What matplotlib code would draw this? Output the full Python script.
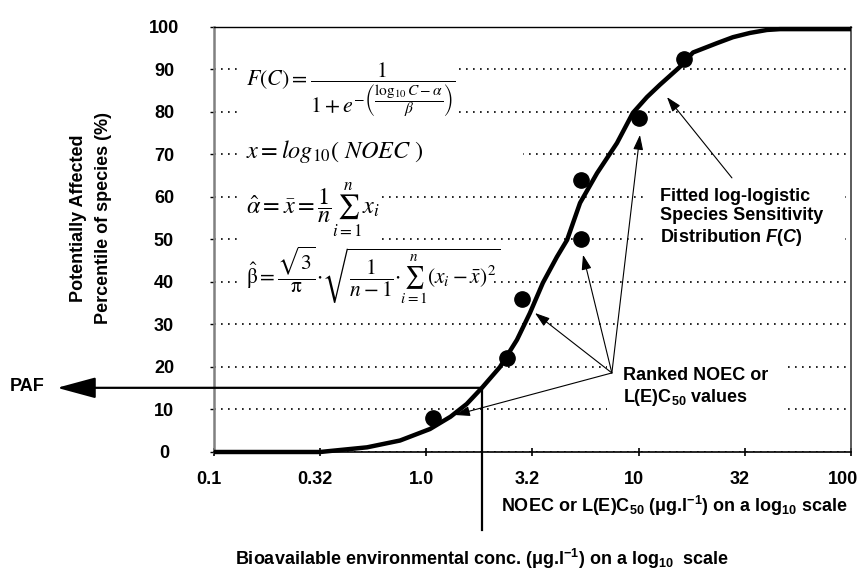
import numpy as np
import matplotlib.pyplot as plt
from matplotlib.patches import Rectangle
from matplotlib.transforms import ScaledTranslation

plt.rcParams['font.family'] = ['Liberation Sans', 'DejaVu Sans']
plt.rcParams['mathtext.fontset'] = 'custom'
plt.rcParams['mathtext.rm'] = 'Liberation Sans:bold'
plt.rcParams['mathtext.it'] = 'Liberation Sans:italic:bold'
plt.rcParams['mathtext.bf'] = 'Liberation Sans:bold'

# fitted log-logistic SSD
curve_conc = [0.1, 0.316, 0.363, 0.526, 0.752, 1.04, 1.30, 1.55, 1.828, 2.223,
              2.673, 3.076, 3.540, 4.121, 4.603, 5.297, 6.368, 7.907, 9.397,
              10.94, 12.59, 15.63, 18.03, 23.39, 27.80, 33.42, 40.18, 46.34, 100]
curve_paf = [0, 0, 0.3, 1.1, 2.7, 5.4, 8.3, 11.3, 15.1, 20.0,
             26.4, 32.7, 39.8, 45.9, 49.9, 58.6, 65.6, 72.7, 79.8,
             83.5, 86.4, 90.6, 94.0, 96.2, 97.6, 98.6, 99.3, 99.5, 99.5]

# ranked NOEC values
noec = [1.08, 2.40, 2.83, 5.36, 5.36, 10.0, 16.4]
noec_pct = [8.0, 22.0, 36.0, 50.0, 64.0, 78.5, 92.5]

xticks = [0.1, 0.316, 1.0, 3.16, 10, 31.6, 100]
xtick_labels = ['0.1', '0.32', '1.0', '3.2', '10', '32', '100']
yticks = list(range(0, 101, 10))

# PAF read-out
paf_conc = 1.83
paf_value = 15.1

# annotation arrows
fit_arrow_from = (27.5, 64.5)
fit_arrow_to = (13.6, 83.5)
ranked_from = (7.48, 18.6)
ranked_to = [(1.365, 8.7), (3.25, 32.7), (5.47, 46.4), (10.14, 74.6)]

fig = plt.figure(figsize=(8.58, 5.72), dpi=100)
ax = fig.add_axes([0.2494, 0.2098, 0.7424, 0.743])
ax.set_xscale('log')
ax.set_xlim(0.1, 100)
ax.set_ylim(0, 100)

ax.set_xticks(xticks)
ax.set_xticklabels(xtick_labels, fontweight='bold')
ax.xaxis.set_minor_locator(plt.NullLocator())
ax.set_yticks(yticks)
ax.set_yticklabels([str(v) for v in yticks], fontweight='bold')
ax.tick_params(axis='x', direction='inout', length=6, width=1.2, pad=11, labelsize=13)
ax.tick_params(axis='y', direction='out', length=3, width=1, pad=33, labelsize=13)
for lab in ax.get_yticklabels():
    lab.set_horizontalalignment('center')
xlabs = ax.get_xticklabels()
for i, lab in enumerate(xlabs):
    dx = -8 if i == len(xlabs) - 1 else -5
    lab.set_transform(lab.get_transform() + ScaledTranslation(dx / 100, 0, fig.dpi_scale_trans))

ax.set_axisbelow(True)
ax.yaxis.grid(True, linestyle=(0, (1, 3.2)), color='black', lw=1.2)

ax.spines['left'].set_color('#808080')
ax.spines['left'].set_linewidth(1.8)
ax.spines['top'].set_linewidth(1.0)
ax.spines['right'].set_color('#404040')
ax.spines['right'].set_linewidth(1.2)
ax.spines['bottom'].set_linewidth(1.2)

# white text boxes that break the grid lines
boxes = [(0.036, 0.769, 0.342, 0.158),
         (0.036, 0.675, 0.449, 0.059),
         (0.036, 0.475, 0.228, 0.153),
         (0.036, 0.346, 0.402, 0.106),
         (0.673, 0.475, 0.318, 0.153),
         (0.617, 0.075, 0.284, 0.141)]
for x0, y0, w, h in boxes:
    ax.add_patch(Rectangle((x0, y0), w, h, transform=ax.transAxes,
                           facecolor='white', edgecolor='none', zorder=1))

ax.plot(curve_conc, curve_paf, color='black', lw=3.2, zorder=3, clip_on=False,
        solid_capstyle='butt', solid_joinstyle='round')
ax.plot(noec, noec_pct, 'o', color='black', markersize=11, zorder=4)

# formulas
ax.text(0.05, 0.852,
        r'$F\left(C\right)=\dfrac{1}{1+e^{-\left(\dfrac{\log_{10}C-\alpha}{\beta}\right)}}$',
        transform=ax.transAxes, fontsize=15.8, math_fontfamily='stix',
        ha='left', va='center', zorder=6)
ax.text(0.05, 0.706, r'$x = log_{10}(\ NOEC\ )$',
        transform=ax.transAxes, fontsize=17.5, math_fontfamily='stix',
        ha='left', va='center', zorder=6)
ax.text(0.05, 0.569, r'$\hat{\alpha}=\bar{x}=\dfrac{1}{n}\sum_{i=1}^{n}x_i$',
        transform=ax.transAxes, fontsize=17.5, math_fontfamily='stix',
        ha='left', va='center', zorder=6)
ax.text(0.05, 0.416,
        r'$\hat{\mathrm{\beta}}=\dfrac{\sqrt{3}}{\mathrm{\pi}}{\cdot}\sqrt{\dfrac{1}{n-1}{\cdot}\sum_{i=1}^{n}\left(x_i-\bar{x}\right)^2}$',
        transform=ax.transAxes, fontsize=15.5, math_fontfamily='stix',
        ha='left', va='center', zorder=6)

thin = dict(arrowstyle='-|>,head_length=0.9,head_width=0.3', color='black',
            lw=0.8, shrinkA=0, shrinkB=0, mutation_scale=10)
ax.annotate('', xy=fit_arrow_to, xytext=fit_arrow_from, arrowprops=thin, zorder=5)
for tip in ranked_to:
    ax.annotate('', xy=tip, xytext=ranked_from, arrowprops=thin, zorder=5)

ax.text(0.700, 0.622, 'Fitted log-logistic\nSpecies Sensitivity\nDistribution $F$($C$)',
        transform=ax.transAxes, fontsize=13, fontweight='bold', ha='left', va='top',
        zorder=6, linespacing=1.2)
ax.text(0.642, 0.200, 'Ranked NOEC or\nL(E)C$_{50}$ values',
        transform=ax.transAxes, fontsize=13, fontweight='bold', ha='left', va='top',
        zorder=6, linespacing=1.2)

# PAF read-out lines
ax.annotate('', xy=(0.01824, paf_value), xytext=(paf_conc, paf_value),
            arrowprops=dict(arrowstyle='-|>,head_length=2.4,head_width=0.65',
                            color='black', lw=1.6, shrinkA=0, shrinkB=0,
                            mutation_scale=10),
            annotation_clip=False, zorder=5)
ax.plot([paf_conc, paf_conc], [paf_value, -18.4], color='black', lw=1.6,
        clip_on=False, zorder=5)

fig.text(10 / 858, 1 - 391 / 572, 'PAF', fontsize=13, fontweight='bold',
         ha='left', va='baseline')
fig.text(91 / 858, 1 - 218 / 572, 'Potentially Affected\nPercentile of species (%)',
         rotation=90, fontsize=13, fontweight='bold', ha='center', va='center',
         multialignment='center', linespacing=1.65)
fig.text(848 / 858, 1 - 512 / 572,
         'NOEC or L(E)C$_{50}$ (μg.l$^{-1}$) on a log$_{10}$ scale',
         fontsize=13, fontweight='bold', ha='right', va='baseline')
fig.text(235 / 858, 1 - 565 / 572,
         'Bioavailable environmental conc. (μg.l$^{-1}$) on a log$_{10}$  scale',
         fontsize=13, fontweight='bold', ha='left', va='baseline')

fig.savefig('out.png', dpi=100)
